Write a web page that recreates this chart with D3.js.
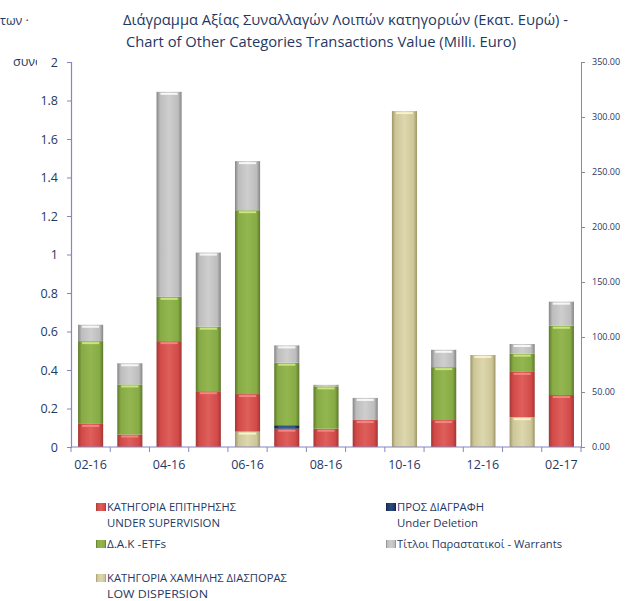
<!DOCTYPE html>
<html>
<head>
<meta charset="utf-8">
<script src="https://cdn.jsdelivr.net/npm/d3@7"></script>
<style>
  html, body { margin: 0; padding: 0; background: #ffffff; }
  svg { display: block; }
  text { font-family: "Open Sans", "Noto Sans", sans-serif; fill: #1f3864; }
</style>
</head>
<body>
<svg id="chart" width="625" height="601"></svg>
<script>
// ---------- DATA ----------
const categories = ["02-16","03-16","04-16","05-16","06-16","07-16","08-16","09-16","10-16","11-16","12-16","01-17","02-17"];
const tickLabels = ["02-16","04-16","06-16","08-16","10-16","12-16","02-17"];
const lowDispersion    = [0,     0,     0,     0,     0.08,  0,     0,     0,     1.745, 0,     0.478, 0.155, 0];
const underSupervision = [0.12,  0.065, 0.55,  0.29,  0.195, 0.095, 0.095, 0.14,  0,     0.14,  0,     0.235, 0.27];
const underDeletion    = [0,     0,     0,     0,     0,     0.018, 0,     0,     0,     0,     0,     0,     0];
const etfs             = [0.43,  0.26,  0.23,  0.335, 0.955, 0.325, 0.22,  0,     0,     0.275, 0,     0.095, 0.36];
const warrants         = [0.085, 0.11,  1.065, 0.385, 0.255, 0.09,  0.008, 0.115, 0,     0.09,  0,     0.05,  0.125];
const leftTicks  = [0, 0.2, 0.4, 0.6, 0.8, 1, 1.2, 1.4, 1.6, 1.8, 2];
const rightTicks = [0, 50, 100, 150, 200, 250, 300, 350];
const seriesNames = {
  low: ["ΚΑΤΗΓΟΡΙΑ ΧΑΜΗΛΗΣ ΔΙΑΣΠΟΡΑΣ", "LOW DISPERSION"],
  sup: ["ΚΑΤΗΓΟΡΙΑ ΕΠΙΤΗΡΗΣΗΣ", "UNDER SUPERVISION"],
  del: ["ΠΡΟΣ ΔΙΑΓΡΑΦΗ", "Under Deletion"],
  etf: ["Δ.Α.Κ -ETFs"],
  war: ["Τίτλοι Παραστατικοί - Warrants"]
};
const titleLines = ["Διάγραμμα Αξίας Συναλλαγών Λοιπών κατηγοριών (Εκατ.  Ευρώ) -",
                    "Chart of Other Categories Transactions Value (Milli. Euro)"];

// ---------- SETUP ----------
const keys = ["low", "sup", "del", "etf", "war"];
const table = categories.map((c, i) => ({
  cat: c, low: lowDispersion[i], sup: underSupervision[i], del: underDeletion[i], etf: etfs[i], war: warrants[i]
}));

const colors = {
  low: {dark: "#9c9668", base: "#cdc698", light: "#ddd7ae", hi: "#fff6cc"},
  sup: {dark: "#a23634", base: "#d24a48", light: "#de5f5b", hi: "#f38d89"},
  del: {dark: "#10203f", base: "#1f3864", light: "#2a4a7e", hi: "#3d5d93"},
  etf: {dark: "#5c772b", base: "#86aa44", light: "#93b650", hi: "#d6ec86"},
  war: {dark: "#858585", base: "#bdbdbd", light: "#cecece", hi: "#ffffff"}
};

const svg = d3.select("#chart");
const plot = {left: 71, right: 581, top: 62, bottom: 447};

const x = d3.scaleBand().domain(categories).range([plot.left, plot.right]).paddingInner(0.36).paddingOuter(0.18);
const y = d3.scaleLinear().domain([0, 2]).range([plot.bottom, plot.top]);
const y2 = d3.scaleLinear().domain([0, 350]).range([plot.bottom, plot.top]);

// gradients
const defs = svg.append("defs");
keys.forEach(k => {
  const c = colors[k];
  const g = defs.append("linearGradient").attr("id", "g-" + k).attr("x1", 0).attr("x2", 1).attr("y1", 0).attr("y2", 0);
  [[0, c.dark], [0.14, c.base], [0.5, c.light], [0.86, c.base], [1, c.dark]].forEach(([o, col]) =>
    g.append("stop").attr("offset", o).attr("stop-color", col));
});
defs.append("clipPath").attr("id", "clipFrag").append("rect").attr("x", 0).attr("y", 40).attr("width", 37).attr("height", 40);

// ---------- BARS ----------
const stacked = d3.stack().keys(keys)(table);
const layers = svg.append("g").selectAll("g").data(stacked).join("g");
layers.each(function(layer) {
  const k = layer.key;
  const g = d3.select(this);
  const segs = layer.filter(d => d[1] - d[0] > 0);
  g.selectAll("rect.seg").data(segs).join("rect").attr("class", "seg")
    .attr("x", d => x(d.data.cat))
    .attr("width", x.bandwidth())
    .attr("y", d => y(d[1]))
    .attr("height", d => y(d[0]) - y(d[1]))
    .attr("fill", "url(#g-" + k + ")");
  g.selectAll("rect.hi").data(segs.filter(d => y(d[0]) - y(d[1]) > 3)).join("rect").attr("class", "hi")
    .attr("x", d => x(d.data.cat) + 4)
    .attr("width", x.bandwidth() - 8)
    .attr("y", d => y(d[1]) + 1)
    .attr("height", 2)
    .attr("fill", colors[k].hi)
    .attr("opacity", 0.85);
});

// ---------- AXES ----------
const axisLeft = d3.axisLeft(y).tickValues(leftTicks).tickSize(4).tickPadding(9)
  .tickFormat(d => String(+d.toFixed(1)));
const gl = svg.append("g").attr("transform", `translate(${plot.left},0)`).call(axisLeft);
gl.select(".domain").attr("stroke", "#8585c2").attr("stroke-width", 1.2);
gl.selectAll(".tick line").attr("stroke", "#8585c2");
gl.selectAll(".tick text").style("font-size", "12.5px").attr("fill", "#1f3864")
  .style("font-family", "'Open Sans', sans-serif");

const axisRight = d3.axisRight(y2).tickValues(rightTicks).tickSize(4).tickPadding(7)
  .tickFormat(d3.format(".2f"));
const gr = svg.append("g").attr("transform", `translate(${plot.right},0)`).call(axisRight);
gr.select(".domain").attr("stroke", "#8c8c8c");
gr.selectAll(".tick line").attr("stroke", "#8c8c8c");
gr.selectAll(".tick text").style("font-size", "9px").attr("fill", "#1f3864")
  .style("font-family", "'Open Sans', sans-serif");

// bottom axis
const bAxis = svg.append("g");
bAxis.append("line").attr("x1", plot.left).attr("x2", plot.right).attr("y1", plot.bottom).attr("y2", plot.bottom)
  .attr("stroke", "#8585c2").attr("stroke-width", 1.2);
const boundaries = categories.map(c => x(c) - (x.step() - x.bandwidth()) / 2);
boundaries.push(plot.right);
bAxis.selectAll("line.tk").data(boundaries).join("line").attr("class", "tk")
  .attr("x1", d => d).attr("x2", d => d).attr("y1", plot.bottom).attr("y2", plot.bottom + 5)
  .attr("stroke", "#8585c2");
bAxis.selectAll("text").data(tickLabels).join("text")
  .attr("x", d => x(d) + x.bandwidth() / 2).attr("y", 469)
  .attr("text-anchor", "middle").style("font-size", "12.5px").text(d => d);

// ---------- TITLE ----------
svg.append("text").attr("x", 123).attr("y", 25).style("font-size", "14.5px")
  .attr("textLength", 445).attr("lengthAdjust", "spacingAndGlyphs").text(titleLines[0]);
svg.append("text").attr("x", 126).attr("y", 47).style("font-size", "14.5px")
  .attr("textLength", 390).attr("lengthAdjust", "spacingAndGlyphs").text(titleLines[1]);

// clipped fragments of the original axis title
svg.append("text").attr("x", 0).attr("y", 25).style("font-size", "12.5px").text("των ·");
svg.append("text").attr("x", 13).attr("y", 66).style("font-size", "12.5px").attr("clip-path", "url(#clipFrag)").text("συνολ");

// ---------- LEGEND ----------
const legendItems = [
  {k: "sup", x: 96, y: 507, lines: seriesNames.sup, widths: [129, 113]},
  {k: "etf", x: 96, y: 544, lines: seriesNames.etf, widths: [59]},
  {k: "low", x: 96, y: 578, lines: seriesNames.low, widths: [180, 101]},
  {k: "del", x: 386, y: 507, lines: seriesNames.del, widths: [87, 81]},
  {k: "war", x: 386, y: 544, lines: seriesNames.war, widths: [165]}
];
const lg = svg.append("g");
legendItems.forEach(it => {
  lg.append("rect").attr("x", it.x).attr("y", it.y - 4).attr("width", 10).attr("height", 8)
    .attr("fill", "url(#g-" + it.k + ")");
  it.lines.forEach((t, j) => {
    lg.append("text").attr("x", it.x + 11).attr("y", it.y + 4 + j * 15.5)
      .style("font-size", "11px").attr("textLength", it.widths[j]).attr("lengthAdjust", "spacingAndGlyphs").text(t);
  });
});
</script>
</body>
</html>
